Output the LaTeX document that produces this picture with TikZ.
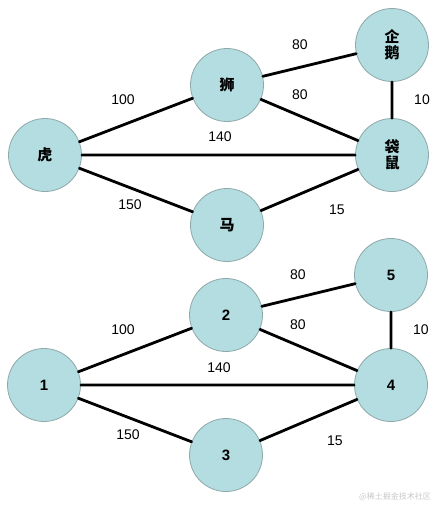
\documentclass[tikz,border=0pt]{standalone}
\usepackage{fontspec}
\setmainfont{Liberation Sans}
\newfontfamily\cjk{Noto Sans CJK SC}
\definecolor{nodefill}{HTML}{B3DDE0}
\definecolor{nodeline}{HTML}{8FA8AA}
\tikzset{
  vertex/.style={circle, draw=nodeline, fill=nodefill, line width=0.8pt, inner sep=0pt,
    minimum size=73pt, font=\fontsize{15}{17}\selectfont\bfseries, align=center},
  cjkvertex/.style={vertex, font=\cjk\fontsize{15}{16}\selectfont\bfseries},
  wt/.style={font=\fontsize{14}{16}\selectfont, inner sep=1pt},
  edge/.style={line width=2.8pt, line cap=round}
}
\begin{document}
\begin{tikzpicture}[x=1pt, y=-1pt]
      \useasboundingbox (0,0) rectangle (439,507);

      % top graph
      \node[cjkvertex] (tiger) at (45,155) {虎};
      \node[cjkvertex] (lion) at (227,85) {狮};
      \node[cjkvertex] (penguin) at (392,45) {企\\鹅};
      \node[cjkvertex] (roo) at (392,155) {袋\\鼠};
      \node[cjkvertex] (horse) at (227,225) {马};

      \draw[edge] (tiger) -- (lion) -- (penguin) -- (roo) -- (horse) -- (tiger) -- (roo);
      \draw[edge] (lion) -- (roo);

      \node[wt] (t1) at (123,100) {100};
      \node[wt] (t2) at (300,45) {80};
      \node[wt] (t3) at (300,95) {80};
      \node[wt] (t4) at (422,100) {10};
      \node[wt] (t5) at (220,137) {140};
      \node[wt] (t6) at (130,205) {150};
      \node[wt] (t7) at (337,210) {15};

      % bottom graph
      \node[vertex] (1) at (44,385) {1};
      \node[vertex] (2) at (226,315) {2};
      \node[vertex] (5) at (391,275) {5};
      \node[vertex] (4) at (391,385) {4};
      \node[vertex] (3) at (226,455) {3};

      \draw[edge] (1) -- (2) -- (5) -- (4) -- (3) -- (1) -- (4);
      \draw[edge] (2) -- (4);

      \node[wt] (b1) at (123,330) {100};
      \node[wt] (b2) at (298,275) {80};
      \node[wt] (b3) at (298,325) {80};
      \node[wt] (b4) at (421,330) {10};
      \node[wt] (b5) at (219,368) {140};
      \node[wt] (b6) at (128,435) {150};
      \node[wt] (b7) at (335,441) {15};

      \node[font=\cjk\fontsize{8}{9}\selectfont, text=black!22] (mark) at (395,497) {@稀土掘金技术社区};
    \end{tikzpicture}
\end{document}
